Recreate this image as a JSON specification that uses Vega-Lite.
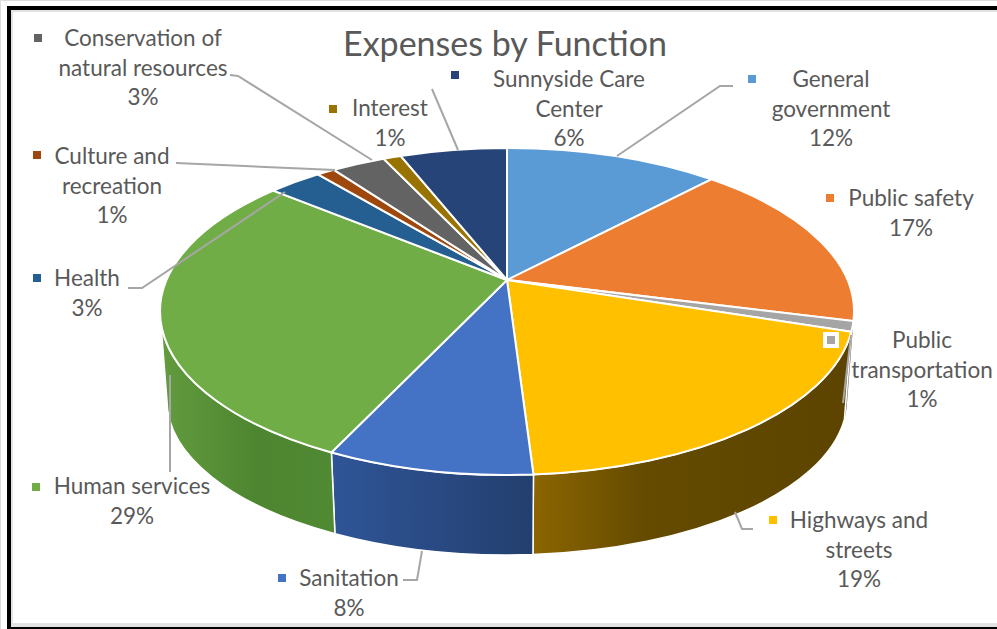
{
  "$schema": "https://vega.github.io/schema/vega-lite/v6.json",
  "width": 997,
  "height": 629,
  "padding": 0,
  "autosize": {"type": "none"},
  "background": "white",
  "title": {
    "text": "Expenses  by Function",
    "font": "Lato",
    "fontSize": 34,
    "fontWeight": "normal",
    "color": "#595959",
    "anchor": "start",
    "align": "center",
    "baseline": "alphabetic",
    "dx": 505,
    "offset": -90
  },
  "data": {
    "values": [
      {"category": "General government", "lines": "General\ngovernment", "value": 12},
      {"category": "Public safety", "lines": "Public safety", "value": 17},
      {"category": "Public transportation", "lines": "Public\ntransportation", "value": 1},
      {"category": "Highways and streets", "lines": "Highways and\nstreets", "value": 19},
      {"category": "Sanitation", "lines": "Sanitation", "value": 8},
      {"category": "Human services", "lines": "Human services", "value": 29},
      {"category": "Health", "lines": "Health", "value": 3},
      {"category": "Culture and recreation", "lines": "Culture and\nrecreation", "value": 1},
      {"category": "Conservation of natural resources", "lines": "Conservation of\nnatural resources", "value": 3},
      {"category": "Interest", "lines": "Interest", "value": 1},
      {"category": "Sunnyside Care Center", "lines": "Sunnyside Care\nCenter", "value": 6}
    ]
  },
  "transform": [
    {"window": [{"op": "sum", "field": "value", "as": "cum"}], "frame": [null, 0], "ignorePeers": true},
    {"calculate": "2*PI*(datum.cum-datum.value)/100", "as": "a1"},
    {"calculate": "2*PI*datum.cum/100", "as": "a2"},
    {"calculate": "340.5*sin(datum.a1)/(1+0.1927*cos(datum.a1))", "as": "x1"},
    {"calculate": "-157.4*cos(datum.a1)/(1+0.1927*cos(datum.a1))", "as": "y1"},
    {"calculate": "340.5*sin(datum.a2)/(1+0.1927*cos(datum.a2))", "as": "x2"},
    {"calculate": "-157.4*cos(datum.a2)/(1+0.1927*cos(datum.a2))", "as": "y2"},
    {"calculate": "'M0 0L'+datum.x1+' '+datum.y1+'A347 163.5 0 0 1 '+datum.x2+' '+datum.y2+'Z'", "as": "topPath"},
    {"calculate": "clamp(datum.a1,1.7647,4.5185)", "as": "w1"},
    {"calculate": "clamp(datum.a2,1.7647,4.5185)", "as": "w2"},
    {"calculate": "340.5*sin(datum.w1)/(1+0.1927*cos(datum.w1))", "as": "wx1"},
    {"calculate": "-157.4*cos(datum.w1)/(1+0.1927*cos(datum.w1))", "as": "wy1"},
    {"calculate": "340.5*sin(datum.w2)/(1+0.1927*cos(datum.w2))", "as": "wx2"},
    {"calculate": "-157.4*cos(datum.w2)/(1+0.1927*cos(datum.w2))", "as": "wy2"},
    {"calculate": "'M'+datum.wx1+' '+datum.wy1+'A347 163.5 0 0 1 '+datum.wx2+' '+datum.wy2+'L'+(datum.wx2*0.98)+' '+(120+(datum.wy2-31.5)*0.948)+'A340 155 0 0 0 '+(datum.wx1*0.98)+' '+(120+(datum.wy1-31.5)*0.948)+'Z'", "as": "wallPath"},
    {"calculate": "{'General government':'M226 -194L213 -194L110 -124','Public transportation':'M336 123L344 55','Highways and streets':'M246 249L235 249L228 232','Sanitation':'M-104 300L-90 300L-85 271','Human services':'M-337 192L-337 95','Health':'M-379 8L-365 8L-222 -88','Culture and recreation':'M-331 -117L-172 -110','Conservation of natural resources':'M-277 -205L-269 -204L-135 -120','Sunnyside Care Center':'M-75 -191L-49 -130'}[datum.category]", "as": "leaderPath"},
    {"calculate": "{'General government':324,'Public safety':404,'Public transportation':415,'Highways and streets':352,'Sanitation':-158,'Human services':-375,'Health':-420,'Culture and recreation':-395,'Conservation of natural resources':-364,'Interest':-117,'Sunnyside Care Center':62}[datum.category]", "as": "labelX"},
    {"calculate": "{'General government':-193,'Public safety':-74,'Public transportation':68,'Highways and streets':248,'Sanitation':306,'Human services':214,'Health':6,'Culture and recreation':-116,'Conservation of natural resources':-234,'Interest':-164,'Sunnyside Care Center':-193}[datum.category]", "as": "labelY"},
    {"calculate": "{'General government':245,'Public safety':323,'Public transportation':324,'Highways and streets':266,'Sanitation':-225,'Human services':-471,'Health':-470,'Culture and recreation':-470,'Conservation of natural resources':-469,'Interest':-174,'Sunnyside Care Center':-52}[datum.category]", "as": "keyX"},
    {"calculate": "{'General government':-201,'Public safety':-82,'Public transportation':60,'Highways and streets':240,'Sanitation':298,'Human services':207,'Health':-2,'Culture and recreation':-125,'Conservation of natural resources':-242,'Interest':-171,'Sunnyside Care Center':-205}[datum.category]", "as": "keyY"},
    {"calculate": "datum.lines+'\\n'+datum.value+'%'", "as": "labelText"}
  ],
  "layer": [
    {
      "encoding": {
        "x": {"datum": 0, "type": "quantitative", "scale": {"domain": [-507, 490]}, "axis": null},
        "y": {"datum": 0, "type": "quantitative", "scale": {"domain": [-280, 349], "reverse": true}, "axis": null}
      },
      "layer": [
        {
          "transform": [{"filter": "datum.category=='Public safety'"}],
          "mark": {"type": "point", "filled": true, "opacity": 1, "size": 4, "fill": "#A0561F"},
          "encoding": {"shape": {"field": "wallPath", "type": "nominal", "scale": null, "legend": null}}
        },
        {
          "transform": [{"filter": "datum.category=='Public transportation'"}],
          "mark": {"type": "point", "filled": true, "opacity": 1, "size": 4, "fill": "#6B6B6B"},
          "encoding": {"shape": {"field": "wallPath", "type": "nominal", "scale": null, "legend": null}}
        },
        {
          "transform": [{"filter": "datum.category=='Highways and streets'"}],
          "mark": {
            "type": "point", "filled": true, "opacity": 1, "size": 4, "stroke": "white", "strokeWidth": 1.5,
            "fill": {"gradient": "linear", "x1": 0, "y1": 0, "x2": 1, "y2": 0, "stops": [
              {"offset": 0, "color": "#8C6500"},
              {"offset": 0.35, "color": "#644B00"},
              {"offset": 1, "color": "#5C4400"}
            ]}
          },
          "encoding": {"shape": {"field": "wallPath", "type": "nominal", "scale": null, "legend": null}}
        },
        {
          "transform": [{"filter": "datum.category=='Sanitation'"}],
          "mark": {
            "type": "point", "filled": true, "opacity": 1, "size": 4, "stroke": "white", "strokeWidth": 1.5,
            "fill": {"gradient": "linear", "x1": 0, "y1": 0, "x2": 1, "y2": 0, "stops": [
              {"offset": 0, "color": "#2F5597"},
              {"offset": 1, "color": "#233F6F"}
            ]}
          },
          "encoding": {"shape": {"field": "wallPath", "type": "nominal", "scale": null, "legend": null}}
        },
        {
          "transform": [{"filter": "datum.category=='Human services'"}],
          "mark": {
            "type": "point", "filled": true, "opacity": 1, "size": 4, "stroke": "white", "strokeWidth": 1.5,
            "fill": {"gradient": "linear", "x1": 0, "y1": 0, "x2": 1, "y2": 0, "stops": [
              {"offset": 0, "color": "#629C3E"},
              {"offset": 0.55, "color": "#4E8530"},
              {"offset": 1, "color": "#508A33"}
            ]}
          },
          "encoding": {"shape": {"field": "wallPath", "type": "nominal", "scale": null, "legend": null}}
        },
        {
          "mark": {"type": "point", "filled": true, "opacity": 1, "size": 4, "stroke": "white", "strokeWidth": 2},
          "encoding": {
            "shape": {"field": "topPath", "type": "nominal", "scale": null, "legend": null},
            "color": {
              "field": "category", "type": "nominal", "legend": null,
              "scale": {
                "domain": ["General government", "Public safety", "Public transportation", "Highways and streets", "Sanitation", "Human services", "Health", "Culture and recreation", "Conservation of natural resources", "Interest", "Sunnyside Care Center"],
                "range": ["#5B9BD5", "#ED7D31", "#A5A5A5", "#FFC000", "#4472C4", "#70AD47", "#255E91", "#9E480E", "#636363", "#997300", "#264478"]
              }
            }
          }
        },
        {
          "transform": [{"filter": "isValid(datum.leaderPath)"}],
          "mark": {"type": "point", "filled": false, "opacity": 1, "size": 4, "stroke": "#A6A6A6", "strokeWidth": 2},
          "encoding": {"shape": {"field": "leaderPath", "type": "nominal", "scale": null, "legend": null}}
        }
      ]
    },
    {
      "mark": {"type": "square", "opacity": 1, "size": 144, "stroke": "white", "strokeWidth": 4},
      "encoding": {
        "x": {"field": "keyX", "type": "quantitative", "scale": {"domain": [-507, 490]}, "axis": null},
        "y": {"field": "keyY", "type": "quantitative", "scale": {"domain": [-280, 349], "reverse": true}, "axis": null},
        "color": {"field": "category", "type": "nominal", "legend": null}
      }
    },
    {
      "mark": {"type": "text", "font": "Lato", "fontSize": 22.5, "color": "#595959", "align": "center", "baseline": "alphabetic", "lineBreak": "\n", "lineHeight": 29.5},
      "encoding": {
        "x": {"field": "labelX", "type": "quantitative", "scale": {"domain": [-507, 490]}, "axis": null},
        "y": {"field": "labelY", "type": "quantitative", "scale": {"domain": [-280, 349], "reverse": true}, "axis": null},
        "text": {"field": "labelText"}
      }
    },
    {
      "data": {"values": [{"edge": "top inner"}]},
      "mark": {"type": "rule", "color": "#E3E3E3", "strokeWidth": 2},
      "encoding": {
        "x": {"datum": -496, "type": "quantitative", "scale": {"domain": [-507, 490]}, "axis": null},
        "x2": {"datum": 490},
        "y": {"datum": -269, "type": "quantitative", "scale": {"domain": [-280, 349], "reverse": true}, "axis": null}
      }
    },
    {
      "data": {"values": [{"edge": "left inner"}]},
      "mark": {"type": "rule", "color": "#E3E3E3", "strokeWidth": 2},
      "encoding": {
        "x": {"datum": -495, "type": "quantitative", "scale": {"domain": [-507, 490]}, "axis": null},
        "y": {"datum": -270, "type": "quantitative", "scale": {"domain": [-280, 349], "reverse": true}, "axis": null},
        "y2": {"datum": 347}
      }
    },
    {
      "data": {"values": [{"edge": "top"}]},
      "mark": {"type": "rule", "color": "black", "strokeWidth": 4},
      "encoding": {
        "x": {"datum": -500, "type": "quantitative", "scale": {"domain": [-507, 490]}, "axis": null},
        "x2": {"datum": 490},
        "y": {"datum": -272, "type": "quantitative", "scale": {"domain": [-280, 349], "reverse": true}, "axis": null}
      }
    },
    {
      "data": {"values": [{"edge": "left"}]},
      "mark": {"type": "rule", "color": "black", "strokeWidth": 4},
      "encoding": {
        "x": {"datum": -498, "type": "quantitative", "scale": {"domain": [-507, 490]}, "axis": null},
        "y": {"datum": -274, "type": "quantitative", "scale": {"domain": [-280, 349], "reverse": true}, "axis": null},
        "y2": {"datum": 349}
      }
    },
    {
      "data": {"values": [{"edge": "bottom inner"}]},
      "mark": {"type": "rule", "color": "#E3E3E3", "strokeWidth": 4},
      "encoding": {
        "x": {"datum": -496, "type": "quantitative", "scale": {"domain": [-507, 490]}, "axis": null},
        "x2": {"datum": 490},
        "y": {"datum": 345, "type": "quantitative", "scale": {"domain": [-280, 349], "reverse": true}, "axis": null}
      }
    },
    {
      "data": {"values": [{"edge": "bottom"}]},
      "mark": {"type": "rule", "color": "black", "strokeWidth": 2},
      "encoding": {
        "x": {"datum": -498, "type": "quantitative", "scale": {"domain": [-507, 490]}, "axis": null},
        "x2": {"datum": 490},
        "y": {"datum": 348, "type": "quantitative", "scale": {"domain": [-280, 349], "reverse": true}, "axis": null}
      }
    }
  ]
}
